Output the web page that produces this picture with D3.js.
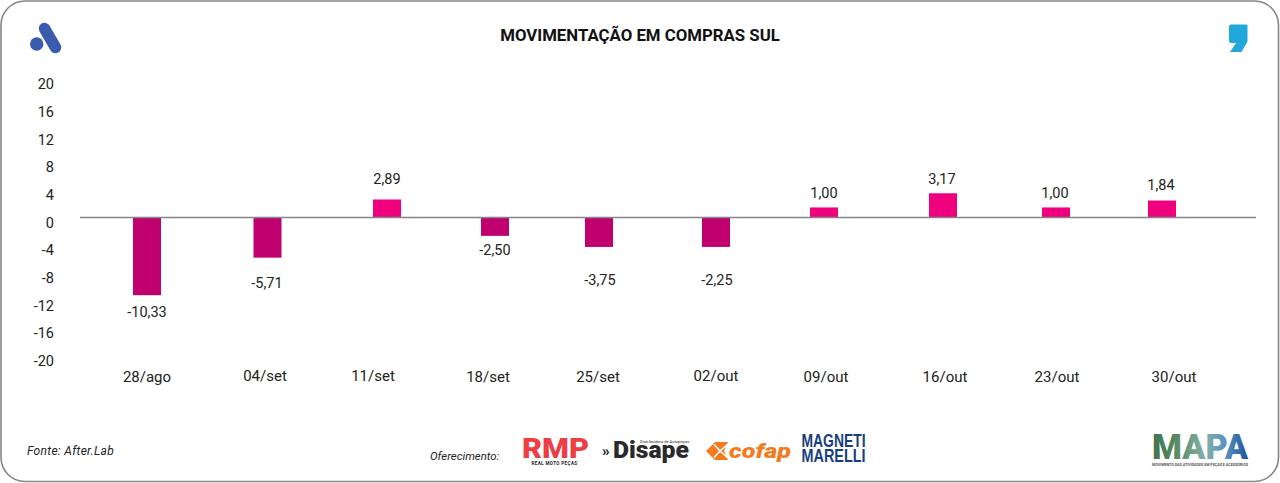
<!DOCTYPE html>
<html>
<head>
<meta charset="utf-8">
<script src="https://d3js.org/d3.v7.min.js"></script>
<style>
    html, body { margin: 0; padding: 0; background: #fff; }
    svg { display: block; }
    svg text { font-family: Roboto, sans-serif; fill: #222; }
</style>
</head>
<body>
<script>
    var categories = ["28/ago", "04/set", "11/set", "18/set", "25/set", "02/out", "09/out", "16/out", "23/out", "30/out"];
    // bar lengths as drawn in the picture, they do not follow the printed labels exactly
    var barValues = [-11.22, -5.8, 2.6, -2.65, -4.25, -4.25, 1.45, 3.5, 1.45, 2.45];
    var valueLabels = ["-10,33", "-5,71", "2,89", "-2,50", "-3,75", "-2,25", "1,00", "3,17", "1,00", "1,84"];
    var yTicks = [20, 16, 12, 8, 4, 0, -4, -8, -12, -16, -20];

    var width = 1280, height = 483;

    var svg = d3.select("body").append("svg")
        .attr("width", width)
        .attr("height", height);

    svg.append("rect")
        .attr("x", 1).attr("y", 1)
        .attr("width", width - 2.5).attr("height", height - 2.5)
        .attr("rx", 24)
        .attr("fill", "#fff")
        .attr("stroke", "#85858a")
        .attr("stroke-width", 1.6);

    var y = d3.scaleLinear().domain([-20, 20]).range([356, 79]);

    // the slide has hand placed columns, so the x scales carry the measured spots
    var xBar = d3.scaleOrdinal().domain(categories)
        .range([147, 267.5, 387, 495, 599, 716, 824, 943, 1056, 1162]);
    var xCat = d3.scaleOrdinal().domain(categories)
        .range([147, 265, 373, 488, 598, 716, 826, 945, 1057, 1174]);
    var yCat = d3.scaleOrdinal().domain(categories)
        .range([377, 376, 375.5, 377, 377, 375.5, 377, 377, 377, 377]);
    var xLabel = d3.scaleOrdinal().domain(categories)
        .range([147, 267, 387, 495, 600, 717, 824, 942, 1055, 1161]);
    var yLabel = d3.scaleOrdinal().domain(categories)
        .range([311.5, 283, 179, 250, 280, 280, 193, 179, 193, 185]);

    var barWidth = 28;

    svg.append("text")
        .attr("x", 640).attr("y", 35)
        .attr("dy", ".35em")
        .attr("text-anchor", "middle")
        .style("font-size", "16.8px")
        .style("font-weight", 700)
        .style("fill", "#111")
        .text("MOVIMENTAÇÃO EM COMPRAS SUL");

    // y axis, domain and tick lines hidden. labels sit under their value in the source
    var yAxis = d3.axisLeft(y).tickValues(yTicks).tickSize(0).tickPadding(0)
        .tickFormat(function (d) { return String(d); });
    var yG = svg.append("g").attr("transform", "translate(54,5)").call(yAxis);
    yG.select(".domain").remove();
    yG.selectAll("text").style("font-size", "14.5px").style("font-family", "Roboto, sans-serif");

    svg.selectAll("rect.bar")
        .data(barValues)
        .enter().append("rect")
        .attr("class", "bar")
        .attr("x", function (d, i) { return xBar(categories[i]) - barWidth / 2; })
        .attr("y", function (d) { return y(Math.max(d, 0)); })
        .attr("width", barWidth)
        .attr("height", function (d) { return Math.abs(y(d) - y(0)); })
        .attr("fill", function (d) { return d < 0 ? "#c0006f" : "#f0007f"; });

    svg.append("line")
        .attr("x1", 80).attr("x2", 1256)
        .attr("y1", y(0)).attr("y2", y(0))
        .attr("stroke", "#85858a")
        .attr("stroke-width", 1.6);

    svg.selectAll("text.value")
        .data(valueLabels)
        .enter().append("text")
        .attr("class", "value")
        .attr("x", function (d, i) { return xLabel(categories[i]); })
        .attr("y", function (d, i) { return yLabel(categories[i]); })
        .attr("dy", ".35em")
        .attr("text-anchor", "middle")
        .style("font-size", "14.5px")
        .text(function (d) { return d; });

    svg.selectAll("text.cat")
        .data(categories)
        .enter().append("text")
        .attr("class", "cat")
        .attr("x", function (d) { return xCat(d); })
        .attr("y", function (d) { return yCat(d); })
        .attr("dy", ".35em")
        .attr("text-anchor", "middle")
        .style("font-size", "15px")
        .text(function (d) { return d; });

    svg.append("text").attr("x", 27).attr("y", 451).attr("dy", ".35em")
        .style("font-size", "12px").style("font-style", "italic").style("letter-spacing", "0.3px")
        .text("Fonte: After.Lab");
    svg.append("text").attr("x", 430).attr("y", 456).attr("dy", ".35em")
        .style("font-size", "11.4px").style("font-style", "italic")
        .text("Oferecimento:");

    // left logo
    var logoA = svg.append("g");
    logoA.append("circle").attr("cx", 36.7).attr("cy", 44).attr("r", 6.7).attr("fill", "#3b5cae");
    logoA.append("line").attr("x1", 44.5).attr("y1", 28.5).attr("x2", 55.5).attr("y2", 47.5)
        .attr("stroke", "#3b5cae").attr("stroke-width", 11.5).attr("stroke-linecap", "round");

    // right logo
    svg.append("path")
        .attr("d", "M1231 24.5H1246Q1247.5 24.5 1247.5 26V41.5L1241.5 52H1230L1236 43H1231Q1229 43 1229 41V26.5Q1229 24.5 1231 24.5Z")
        .attr("fill", "#20a7dc");

    // sponsor logos
    svg.append("text").attr("x", 522).attr("y", 458).attr("textLength", 67).attr("lengthAdjust", "spacingAndGlyphs")
        .style("font-size", "27px").style("font-weight", 900).style("fill", "#ee3e45").text("RMP");
    svg.append("text").attr("x", 554.5).attr("y", 463).attr("dy", ".35em").attr("text-anchor", "middle")
        .style("font-size", "4.5px").style("font-weight", 700).style("letter-spacing", "0.4px")
        .text("REAL MOTO PEÇAS");

    svg.append("text").attr("x", 602).attr("y", 451).attr("dy", ".35em")
        .style("font-size", "15px").style("font-weight", 900).style("fill", "#2a2a2e").text("»");
    svg.append("text").attr("x", 613).attr("y", 458).attr("textLength", 76).attr("lengthAdjust", "spacingAndGlyphs")
        .style("font-size", "24px").style("font-weight", 900).style("fill", "#2a2a2e").text("Disape");
    svg.append("text").attr("x", 640).attr("y", 441.5).attr("dy", ".35em").attr("textLength", 49).attr("lengthAdjust", "spacingAndGlyphs")
        .style("font-size", "3.6px").style("fill", "#2a2a2e").text("Distribuidora de Autopeças");

    svg.append("path")
        .attr("d", "M706 451L715 442H728L724 451L728 460H715Z")
        .attr("fill", "#f47a20");
    svg.append("path")
        .attr("d", "M714 444.5L720 451L714 457.5M728 444L720 451L728 458")
        .attr("fill", "none").attr("stroke", "#fff").attr("stroke-width", 1.6);
    svg.append("text").attr("x", 729).attr("y", 450.5).attr("dy", ".35em").attr("textLength", 62).attr("lengthAdjust", "spacingAndGlyphs")
        .style("font-size", "20px").style("font-weight", 900).style("font-style", "italic").style("fill", "#f47a20").text("cofap");

    var magneti = svg.append("g")
        .style("font-family", "'Liberation Sans Narrow', sans-serif");
    magneti.append("text").attr("x", 801.5).attr("y", 447).attr("textLength", 64).attr("lengthAdjust", "spacingAndGlyphs")
        .style("font-family", "inherit").style("font-size", "18px").style("font-weight", 700).style("fill", "#173f7f").text("MAGNETI");
    magneti.append("text").attr("x", 801.5).attr("y", 461.5).attr("textLength", 64).attr("lengthAdjust", "spacingAndGlyphs")
        .style("font-family", "inherit").style("font-size", "18px").style("font-weight", 700).style("fill", "#173f7f").text("MARELLI");

    // MAPA logo with a green to blue fill
    var grad = svg.append("defs").append("linearGradient").attr("id", "mapaFill");
    grad.append("stop").attr("offset", "0%").attr("stop-color", "#3f7350");
    grad.append("stop").attr("offset", "30%").attr("stop-color", "#5f8f6a");
    grad.append("stop").attr("offset", "55%").attr("stop-color", "#86b0a8");
    grad.append("stop").attr("offset", "75%").attr("stop-color", "#5b94c4");
    grad.append("stop").attr("offset", "100%").attr("stop-color", "#1c5596");
    svg.append("text").attr("x", 1152).attr("y", 459).attr("textLength", 96).attr("lengthAdjust", "spacingAndGlyphs")
        .style("font-size", "35px").style("font-weight", 900)
        .style("fill", "url(#mapaFill)").text("MAPA");
    svg.append("text").attr("x", 1152).attr("y", 464.5).attr("dy", ".35em").attr("textLength", 96).attr("lengthAdjust", "spacingAndGlyphs")
        .style("font-size", "3.6px").style("font-weight", 700).style("fill", "#555")
        .text("MOVIMENTO DAS ATIVIDADES EM PEÇAS E ACESSÓRIOS");
</script>
</body>
</html>
